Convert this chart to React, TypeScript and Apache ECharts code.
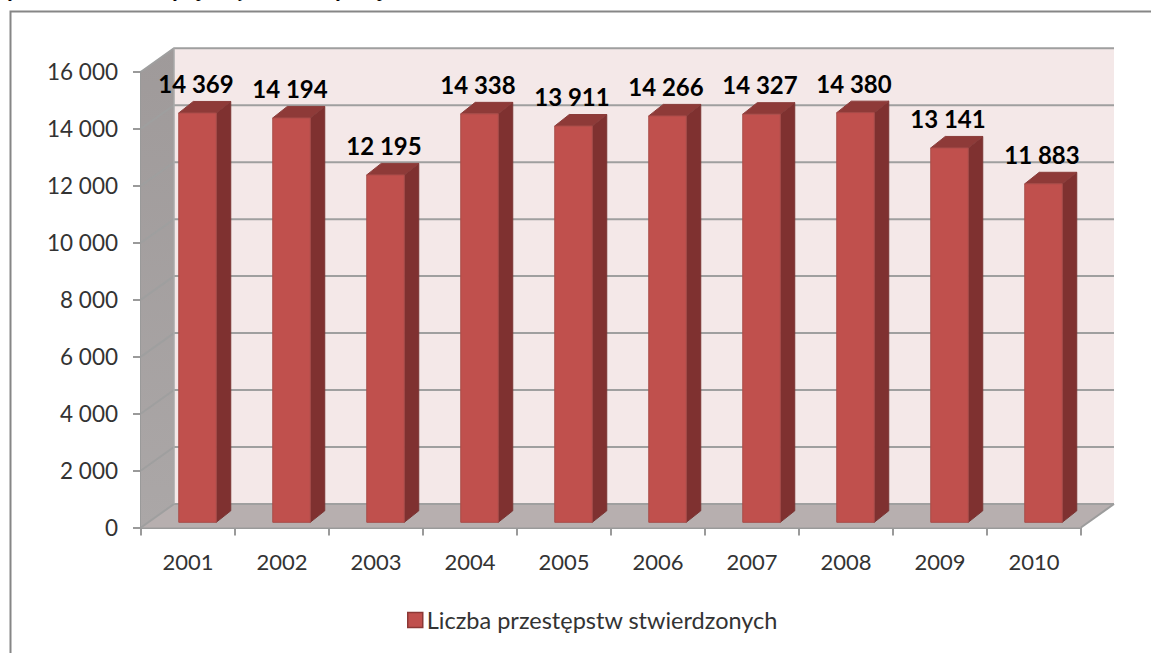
import React, { useEffect, useRef } from "react";
import * as echarts from "echarts";

const categories = ["2001", "2002", "2003", "2004", "2005", "2006", "2007", "2008", "2009", "2010"];
const values = [14369, 14194, 12195, 14338, 13911, 14266, 14327, 14380, 13141, 11883];
const seriesName = "Liczba przestępstw stwierdzonych";
const yTicks = [0, 2000, 4000, 6000, 8000, 10000, 12000, 14000, 16000];
const clippedGlyphs = [
  { ch: "y", x: 8 },
  { ch: "y", x: 173 },
  { ch: "p", x: 196 },
  { ch: "ę", x: 234 },
  { ch: "y", x: 336 },
  { ch: "p", x: 377 },
];

const FONT = "Lato";
const fmt = (v: number) => String(v).replace(/\B(?=(\d{3})+$)/g, "\u00a0");

const WALL_DX = 33;
const WALL_DY = -23.5;
const GRID = "#9f9f9f";

function renderWalls(_p: any, api: any) {
  const band = api.size([1, 0])[0];
  const x0 = api.coord([0, 0])[0] - band / 2;
  const x1 = api.coord([categories.length - 1, 0])[0] + band / 2;
  const yb = api.coord([0, 0])[1];
  const yt = api.coord([0, 16000])[1];
  const poly = (points: number[][], fill: string) => ({
    type: "polygon",
    shape: { points },
    style: { fill, stroke: "none" },
  });
  const children: any[] = [
    poly(
      [[x0 + WALL_DX, yt + WALL_DY], [x1 + WALL_DX, yt + WALL_DY], [x1 + WALL_DX, yb + WALL_DY], [x0 + WALL_DX, yb + WALL_DY]],
      "#f4e8e8"
    ),
    {
      type: "polygon",
      shape: { points: [[x0, yt], [x0 + WALL_DX, yt + WALL_DY], [x0 + WALL_DX, yb + WALL_DY], [x0, yb]] },
      style: {
        fill: new echarts.graphic.LinearGradient(0, 0, 0, 1, [
          { offset: 0, color: "#9f9a9a" },
          { offset: 1, color: "#aba7a7" },
        ]),
      },
    },
    poly([[x0, yb], [x0 + WALL_DX, yb + WALL_DY], [x1 + WALL_DX, yb + WALL_DY], [x1, yb]], "#b7afaf"),
  ];
  yTicks.forEach((t) => {
    const y = api.coord([0, t])[1];
    children.push({
      type: "polyline",
      shape: { points: [[x0, y], [x0 + WALL_DX, y + WALL_DY], [x1 + WALL_DX, y + WALL_DY]] },
      style: { fill: "none", stroke: GRID, lineWidth: 2 },
    });
  });
  children.push({
    type: "line",
    shape: { x1: x0 + WALL_DX, y1: yt + WALL_DY, x2: x0 + WALL_DX, y2: yb + WALL_DY },
    style: { stroke: "#a9a9a9", lineWidth: 1.5 },
  });
  children.push({
    type: "line",
    shape: { x1: x1, y1: yb, x2: x1 + WALL_DX, y2: yb + WALL_DY },
    style: { stroke: "#9c9c9c", lineWidth: 2 },
  });
  return { type: "group", children };
}

const BAR_W = 37.5;
const BAR_OX = 9.5;
const BAR_OY = -5.2;
const BAR_DX = 14.5;
const BAR_DY = -11.5;

function renderBar(_p: any, api: any) {
  const idx = api.value(0);
  const val = api.value(1);
  const top = api.coord([idx, val]);
  const base = api.coord([idx, 0]);
  const xl = top[0] + BAR_OX - BAR_W / 2;
  const xr = xl + BAR_W;
  const yt = top[1] + BAR_OY;
  const yb = base[1] + BAR_OY;
  const edge = { stroke: "#a84c49", lineWidth: 1 };
  return {
    type: "group",
    children: [
      {
        type: "polygon",
        shape: { points: [[xr, yt], [xr + BAR_DX, yt + BAR_DY], [xr + BAR_DX, yb + BAR_DY], [xr, yb]] },
        style: { fill: "#7f3130", stroke: "#7a3533", lineWidth: 1 },
      },
      {
        type: "polygon",
        shape: { points: [[xl, yt], [xl + BAR_DX, yt + BAR_DY], [xr + BAR_DX, yt + BAR_DY], [xr, yt]] },
        style: { fill: "#8e3a38", stroke: "#8a3c3a", lineWidth: 1 },
      },
      {
        type: "rect",
        shape: { x: xl, y: yt, width: BAR_W, height: yb - yt },
        style: { fill: "#c0504d", ...edge },
      },
      {
        type: "text",
        x: xl + BAR_W / 2 - 1.5,
        y: yt - 29.5,
        style: {
          text: fmt(val),
          fill: "#000",
          font: `bold 24px ${FONT}`,
          align: "center",
          verticalAlign: "middle",
        },
      },
    ],
  };
}

export default function App() {
  const ref = useRef<HTMLDivElement>(null);
  useEffect(() => {
    if (!ref.current) return;
    const chart = echarts.init(ref.current, undefined, { renderer: "svg" });
    chart.setOption({
      animation: false,
      backgroundColor: "#ffffff",
      grid: { left: 141, right: 70, top: 71.7, bottom: 125.5 },
      xAxis: {
        type: "category",
        data: categories,
        axisLine: { lineStyle: { color: "#9a9a9a", width: 2 } },
        axisTick: { show: true, length: 8, lineStyle: { color: "#9a9a9a", width: 2 } },
        axisLabel: { color: "#333", fontFamily: FONT, fontSize: 22, margin: 23 },
      },
      yAxis: {
        type: "value",
        min: 0,
        max: 16000,
        interval: 2000,
        splitLine: { show: false },
        axisLine: { show: true, lineStyle: { color: "#9a9a9a", width: 2 } },
        axisTick: { show: true, length: 8, lineStyle: { color: "#9a9a9a", width: 2 } },
        axisLabel: { color: "#333", fontFamily: FONT, fontSize: 22.5, margin: 23, formatter: (v: number) => fmt(v) },
      },
      legend: {
        left: 402,
        top: 603,
        itemWidth: 15,
        itemHeight: 15,
        itemGap: 6,
        selectedMode: false,
        data: [{ name: seriesName, icon: "rect", itemStyle: { color: "#c0504d", borderColor: "#8c3836", borderWidth: 1.5 } }],
        textStyle: { color: "#333", fontFamily: FONT, fontSize: 23.5, padding: [0, 0, 0, -1] },
      },
      series: [
        {
          type: "custom",
          name: "walls",
          silent: true,
          z: 1,
          renderItem: renderWalls,
          data: [[categories[0], 0]],
        },
        {
          type: "custom",
          name: seriesName,
          silent: true,
          z: 3,
          itemStyle: { color: "#c0504d" },
          renderItem: renderBar,
          encode: { x: 0, y: 1 },
          data: categories.map((c, i) => [c, values[i]]),
        },
      ],
      graphic: [
        {
          type: "polyline",
          silent: true,
          shape: { points: [[10.5, 653], [10.5, 11.5], [1151, 11.5]] },
          style: { fill: "none", stroke: "#868686", lineWidth: 2 },
        },
        ...clippedGlyphs.map((g) => ({
          type: "text",
          silent: true,
          x: g.x,
          y: -19,
          style: { text: g.ch, fill: "#000", font: "19px 'Liberation Serif'", verticalAlign: "top" as const },
        })),
      ],
    });
    return () => chart.dispose();
  }, []);
  return (
    <div
      ref={ref}
      style={{ position: "absolute", left: 0, top: 0, width: 1151, height: 653, overflow: "hidden" }}
    />
  );
}
